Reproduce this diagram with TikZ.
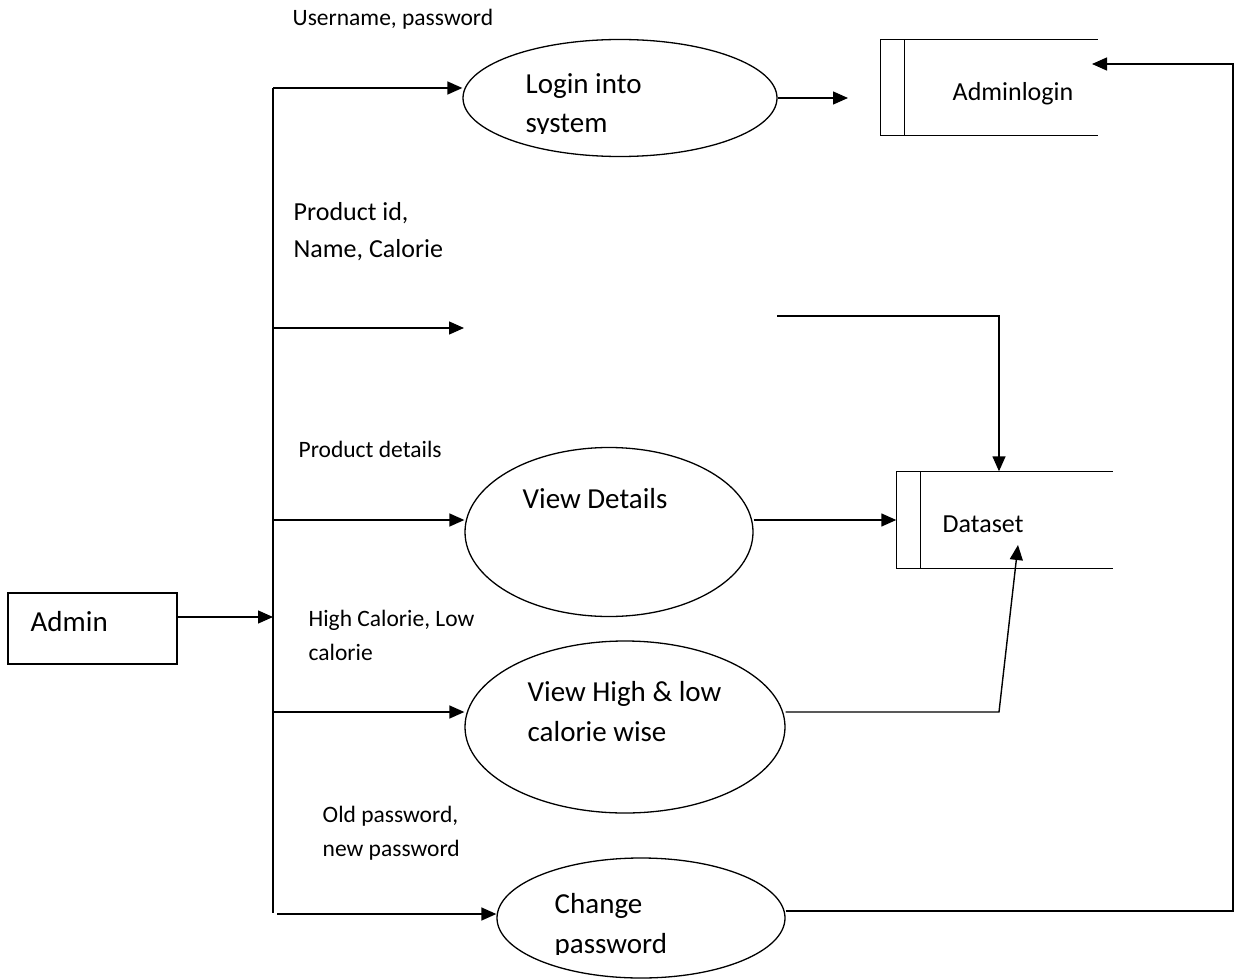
\documentclass[tikz,border=0pt]{standalone}
\usepackage{fontspec}
\setmainfont{Carlito}
\usetikzlibrary{arrows.meta,shapes.geometric}
\begin{document}
\begin{tikzpicture}[x=1pt,y=-1pt,line width=1.4pt,
  arr/.style={-{Triangle[length=15pt,width=13pt]}},
  proc/.style={draw,ellipse,inner sep=0pt,line width=1.3pt},
  store/.style={inner sep=0pt},
  ent/.style={draw,rectangle,inner sep=0pt},
  big/.style={font=\fontsize{29}{40}\selectfont,anchor=base west,inner sep=0pt},
  mid/.style={font=\fontsize{26}{34}\selectfont,anchor=base west,inner sep=0pt},
  lab/.style={font=\fontsize{23.5}{34}\selectfont,anchor=base west,inner sep=0pt}]
\useasboundingbox (0,0) rectangle (1237,979);

% processes
\node[proc,minimum width=314pt,minimum height=117pt] (login) at (620,98) {};
\node[proc,minimum width=288pt,minimum height=169pt] (view) at (609,532) {};
\node[proc,minimum width=320pt,minimum height=172pt] (hilo) at (625,727) {};
\node[proc,minimum width=288pt,minimum height=120pt] (change) at (641,918) {};

% process texts
\begin{scope}
\clip (440,40) rectangle (800,134);
\node[big] (t1a) at (525,94) {Login into};
\node[big] (t1b) at (525,133) {system};
\end{scope}
\node[big] (t2) at (522,508) {View Details};
\node[big] (t3a) at (527,701) {View High \& low};
\node[big] (t3b) at (527,741) {calorie wise};
\begin{scope}
\clip (480,860) rectangle (800,954);
\node[big] (t4a) at (554,913) {Change};
\node[big] (t4b) at (554,953) {password};
\end{scope}

% data stores
\node[store,minimum width=216pt,minimum height=95pt] (adminlogin) at (989,87.5) {};
\draw (adminlogin.north east) -- (adminlogin.north west) -- (adminlogin.south west) -- (adminlogin.south east);
\draw ([xshift=24pt]adminlogin.north west) -- ([xshift=24pt]adminlogin.south west);
\node[mid] (tadm) at (952,101) {Adminlogin};

\node[store,minimum width=215pt,minimum height=96pt] (dataset) at (1004.5,520) {};
\draw (dataset.north east) -- (dataset.north west) -- (dataset.south west) -- (dataset.south east);
\draw ([xshift=24pt]dataset.north west) -- ([xshift=24pt]dataset.south west);
\node[mid] (tds) at (942,532) {Dataset};

% entity
\node[ent,minimum width=169pt,minimum height=71pt] (admin) at (92.5,628.5) {};
\node[big] (tadmin) at (30,631) {Admin};

% spine
\coordinate (s0) at (273,88);
\coordinate (s1) at (273,328);
\coordinate (s2) at (273,520);
\coordinate (s3) at (273,617);
\coordinate (s4) at (273,712);
\coordinate (s5) at (273,913);
\draw (s0) -- (s5);

% flows from spine
\draw[arr] (s0) -- (s0 -| login.west);
\draw[arr] (s1) -- (464,328);
\draw[arr] (s2) -- (s2 -| view.west);
\draw[arr] (admin.east |- s3) -- (s3);
\draw[arr] (s4) -- (s4 -| hilo.west);
\coordinate (s5b) at (277,914);
\draw[arr] (s5b) -- (s5b -| change.west);

% flows to stores
\coordinate (lo) at (848,98);
\draw[arr] (login.east) -- (lo);
\coordinate (p1) at (777,316);
\draw[arr] (p1) -- (999,316) -- (999,316 |- dataset.north);
\draw[arr] (view.east |- 0,520) -- (dataset.west);
\coordinate (dsin) at (1018,545);
\draw[arr] (hilo.east |- 0,712) -- (999,712) -- (dsin);
\coordinate (alin) at (1092,64);
\draw[arr] (change.east |- 0,911) -- (1233,911) -- (1233,64) -- (alin);

% labels
\node[lab] (l1) at (292,26) {Username, password};
\node[mid] (l2a) at (293,220) {Product id,};
\node[mid] (l2b) at (293,257) {Name, Calorie};
\node[lab] (l3) at (298,457) {Product details};
\node[lab] (l4a) at (308,626) {High Calorie, Low};
\node[lab] (l4b) at (308,660) {calorie};
\node[lab] (l5a) at (322,822) {Old password,};
\node[lab] (l5b) at (322,856) {new password};
\end{tikzpicture}
\end{document}
